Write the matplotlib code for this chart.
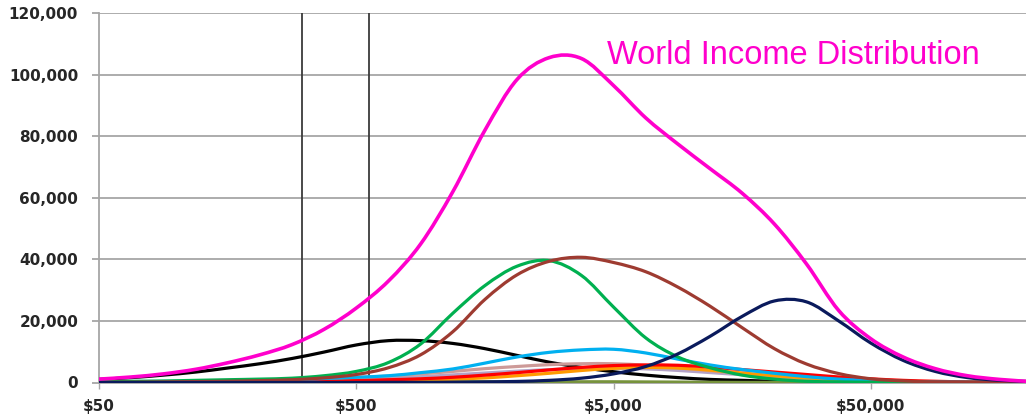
import math
import matplotlib
matplotlib.use("Agg")
import matplotlib.pyplot as plt
from matplotlib.path import Path
from matplotlib.patches import PathPatch
from matplotlib.ticker import FuncFormatter, FixedLocator, NullLocator

# Income grid (US$ per year), 1/8-decade steps
income = [50, 67, 89, 119, 158, 211, 281, 375, 500, 667, 889, 1186, 1581,
          2108, 2812, 3750, 5000, 6668, 8891, 11856, 15811, 21084, 28117,
          37494, 50000, 66676, 88914, 118569, 158114, 210848]

# Series values in thousands of people
world = [1.1, 1.8, 2.8, 4.3, 6.4, 9.0, 12.3, 17.3, 24.2, 33.0, 45.0, 62.0, 82.0,
         98.5, 105.6, 105.3, 96.5, 86.0, 77.5, 69.5, 61.5, 51.5, 38.5, 23.4,
         14.2, 8.3, 4.5, 2.2, 1.0, 0.3]
africa_black = [1.0, 1.6, 2.4, 3.4, 4.7, 6.1, 7.8, 9.9, 12.2, 13.6, 13.6, 12.7,
                11.0, 8.8, 6.6, 4.9, 3.5, 2.4, 1.6, 1.0, 0.7, 0.4, 0.25, 0.15,
                0.1, 0.05, 0.0, 0.0, 0.0, 0.0]
green = [0.3, 0.4, 0.5, 0.7, 0.9, 1.1, 1.4, 2.2, 3.6, 6.5, 12.5, 22.5, 31.5,
         37.8, 39.6, 34.8, 24.5, 14.5, 8.3, 4.8, 2.4, 1.1, 0.4, 0.2, 0.1, 0.05,
         0.0, 0.0, 0.0, 0.0]
brown = [0.1, 0.1, 0.2, 0.3, 0.4, 0.6, 0.9, 1.5, 2.6, 4.8, 9.0, 16.5, 27.0,
         35.0, 39.4, 40.7, 39.0, 36.0, 31.0, 24.8, 17.8, 11.0, 6.0, 2.9, 1.2,
         0.5, 0.2, 0.1, 0.05, 0.0]
navy = [0.0, 0.0, 0.0, 0.0, 0.0, 0.0, 0.0, 0.0, 0.0, 0.05, 0.05, 0.1, 0.2,
        0.35, 0.7, 1.4, 2.8, 5.2, 9.3, 15.0, 21.5, 26.5, 26.2, 20.0, 12.8,
        7.2, 3.6, 1.6, 0.7, 0.3]
light_blue = [0.1, 0.1, 0.2, 0.2, 0.3, 0.5, 0.9, 1.3, 1.7, 2.2, 3.2, 4.4, 6.3,
              8.3, 9.8, 10.6, 10.8, 9.6, 7.6, 5.7, 4.2, 3.0, 1.9, 1.1, 0.6,
              0.3, 0.15, 0.1, 0.0, 0.0]
rosy = [0.1, 0.1, 0.2, 0.3, 0.4, 0.6, 0.9, 1.2, 1.6, 2.1, 2.8, 3.6, 4.5, 5.2,
        5.8, 6.1, 6.1, 5.6, 4.8, 3.8, 2.8, 1.9, 1.2, 0.7, 0.4, 0.2, 0.1, 0.0,
        0.0, 0.0]
lavender = [0.0, 0.05, 0.1, 0.15, 0.2, 0.3, 0.5, 0.7, 1.0, 1.4, 1.9, 2.5, 3.1,
            3.7, 4.2, 4.5, 4.6, 4.4, 3.9, 3.2, 2.5, 1.8, 1.2, 0.7, 0.4, 0.2,
            0.1, 0.0, 0.0, 0.0]
red = [0.0, 0.05, 0.1, 0.1, 0.15, 0.2, 0.3, 0.4, 0.6, 0.9, 1.2, 1.7, 2.4, 3.2,
       4.1, 4.9, 5.5, 5.7, 5.6, 5.0, 4.2, 3.4, 2.6, 1.8, 1.2, 0.7, 0.4, 0.2,
       0.1, 0.05]
orange = [0.0, 0.0, 0.05, 0.05, 0.1, 0.15, 0.2, 0.3, 0.4, 0.6, 0.8, 1.1, 1.5,
          2.2, 3.0, 3.9, 4.6, 4.9, 4.7, 4.0, 3.1, 2.2, 1.5, 1.0, 0.6, 0.3,
          0.15, 0.1, 0.05, 0.0]
olive = [0.0, 0.0, 0.0, 0.05, 0.05, 0.1, 0.1, 0.15, 0.2, 0.2, 0.25, 0.3, 0.3,
         0.3, 0.3, 0.3, 0.3, 0.25, 0.2, 0.15, 0.1, 0.1, 0.05, 0.05, 0.0, 0.0,
         0.0, 0.0, 0.0, 0.0]

poverty_lines = [307, 560]
x_ticks = [50, 500, 5000, 50000]
x_tick_labels = ["$50", "$500", "$5,000", "$50,000"]
y_ticks = [0, 20000, 40000, 60000, 80000, 100000, 120000]

series = [
    (africa_black, "#000000", 2.3),
    (olive, "#77933C", 2.0),
    (lavender, "#B3A2C7", 2.2),
    (rosy, "#CD9A98", 2.3),
    (orange, "#FF9A00", 2.3),
    (red, "#FF0000", 2.3),
    (light_blue, "#00B0F0", 2.3),
    (green, "#00B050", 2.3),
    (brown, "#9E3B31", 2.3),
    (navy, "#0A1A5C", 2.3),
    (world, "#FF00CC", 2.6),
]


def smooth_line_path(xs, ys):
    """Excel-style smoothed line: Catmull-Rom segments as cubic Beziers,
    built in log10(x) space and mapped back to data coordinates."""
    pts = [(math.log10(x), y) for x, y in zip(xs, ys)]
    n = len(pts)
    verts = [pts[0]]
    codes = [Path.MOVETO]
    for i in range(n - 1):
        p0 = pts[i - 1] if i > 0 else pts[i]
        p1 = pts[i]
        p2 = pts[i + 1]
        p3 = pts[i + 2] if i + 2 < n else pts[i + 1]
        c1 = (p1[0] + (p2[0] - p0[0]) / 6, p1[1] + (p2[1] - p0[1]) / 6)
        c2 = (p2[0] - (p3[0] - p1[0]) / 6, p2[1] - (p3[1] - p1[1]) / 6)
        verts += [c1, c2, p2]
        codes += [Path.CURVE4] * 3
    verts = [(10 ** vx, vy) for vx, vy in verts]
    return Path(verts, codes)


fig = plt.figure(figsize=(10.26, 4.18), dpi=100)
ax = fig.add_axes([99 / 1026, (418 - 382.5) / 418, 927 / 1026, 369.2 / 418])
ax.set_xscale("log")
ax.set_xlim(50, 200400)
ax.set_ylim(0, 120000)

for vals, col, lw in series:
    path = smooth_line_path(income, [v * 1000 for v in vals])
    ax.add_patch(PathPatch(path, fill=False, edgecolor=col, lw=lw,
                           capstyle="round", joinstyle="round", zorder=3))

for xv in poverty_lines:
    ax.axvline(xv, color="#3a3a3a", lw=1.3, zorder=2)

ax.xaxis.set_major_locator(FixedLocator(x_ticks))
ax.xaxis.set_minor_locator(NullLocator())
ax.set_xticklabels(x_tick_labels)
ax.set_yticks(y_ticks)
ax.yaxis.set_major_formatter(FuncFormatter(lambda v, p: f"{int(v):,}"))

ax.grid(axis="y", color="#A6A6A6", lw=1.3, zorder=1)
for s in ["top", "right"]:
    ax.spines[s].set_visible(False)
ax.spines["left"].set_color("#A6A6A6")
ax.spines["left"].set_linewidth(1.3)
ax.spines["bottom"].set_color("#A6A6A6")
ax.spines["bottom"].set_linewidth(1.3)

ax.tick_params(axis="y", length=5, width=1.3, color="#A6A6A6", pad=10,
               labelsize=11, labelcolor="#262626")
ax.tick_params(axis="x", length=4, width=1.0, color="#A6A6A6", pad=8,
               labelsize=11, labelcolor="#262626")
for lab in ax.get_xticklabels() + ax.get_yticklabels():
    lab.set_fontweight("bold")

ax.text(0.548, 0.885, "World Income Distribution", transform=ax.transAxes,
        color="#FF00CC", fontsize=23.5, family="Liberation Sans",
        ha="left", va="center")

fig.text(518 / 1026, 1 + 2 / 418, "2000", color="#7F7F7F", fontsize=24,
         fontweight="bold", ha="center", va="baseline", family="Liberation Sans")

fig.savefig("out.png", dpi=100)
